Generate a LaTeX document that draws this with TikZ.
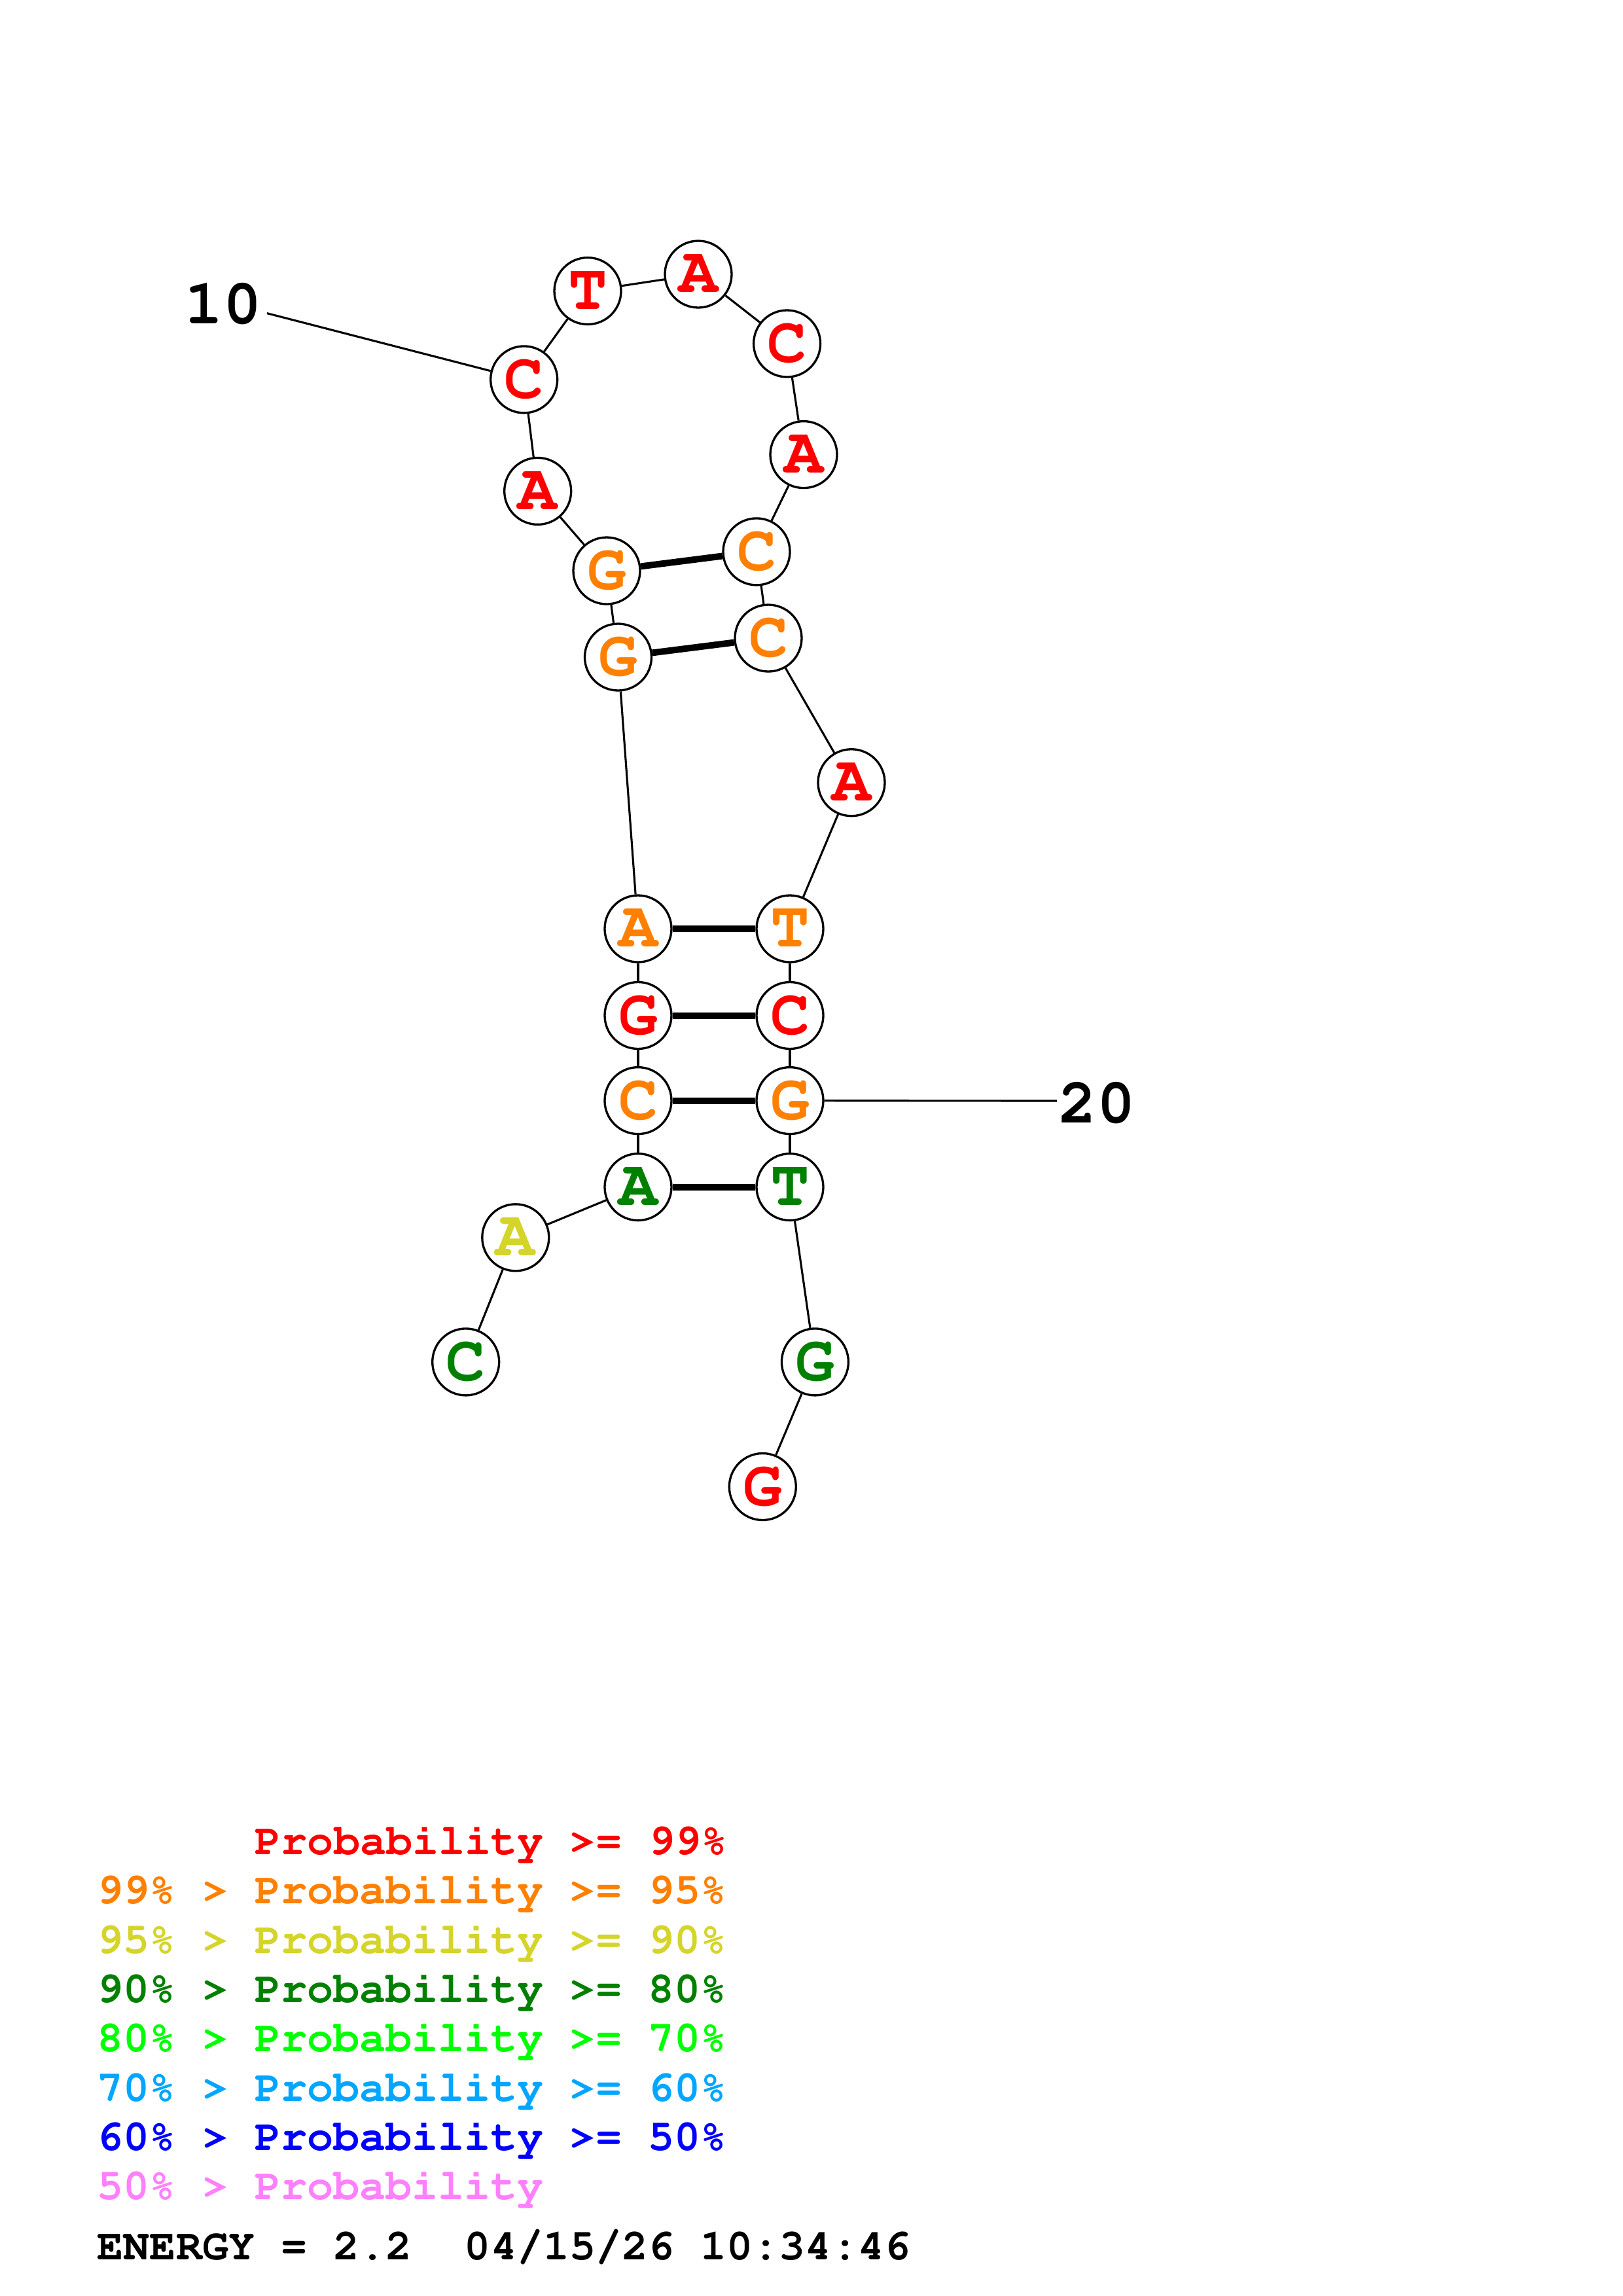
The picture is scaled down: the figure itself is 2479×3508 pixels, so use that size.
\documentclass[tikz,border=0pt]{standalone}
\usepackage[T1]{fontenc}
\newcommand\cfont{\fontencoding{T1}\fontfamily{pcr}\fontseries{b}\fontshape{n}\selectfont}
\definecolor{pred}{RGB}{255,0,0}
\definecolor{porange}{RGB}{255,128,0}
\definecolor{pyellow}{RGB}{212,212,42}
\definecolor{pgreen}{RGB}{0,128,0}
\definecolor{plime}{RGB}{0,255,0}
\definecolor{psky}{RGB}{0,166,255}
\definecolor{pblue}{RGB}{0,0,255}
\definecolor{ppink}{RGB}{255,128,255}
\begin{document}
\begin{tikzpicture}[x=0.084714mm,y=-0.084714mm,
  nt/.style={circle,draw,line width=0.8pt,fill=white,minimum size=8.64mm,inner sep=0pt,
    font=\cfont\fontsize{24}{24}\selectfont},
  bb/.style={line width=0.75pt},
  bp/.style={line width=2.4pt},
  numlab/.style={font=\cfont\fontsize{23.5}{24}\selectfont,inner sep=0pt},
  leg/.style={anchor=base west,inner sep=0pt,font=\cfont\fontsize{16.1}{16}\selectfont}]
\useasboundingbox (0,0) rectangle (2479,3508);
\fill[white] (0,0) rectangle (2479,3508);
% nucleotides
\node[nt,text=pgreen]  (n1)  at (711.7,2080.9) {C};
\node[nt,text=pyellow] (n2)  at (787.8,1890.8) {A};
\node[nt,text=pgreen]  (n3)  at (975,1813.6) {A};
\node[nt,text=porange] (n4)  at (975,1681.6) {C};
\node[nt,text=pred]    (n5)  at (975,1551.5) {G};
\node[nt,text=porange] (n6)  at (975,1419) {A};
\node[nt,text=porange] (n7)  at (944.5,1004) {G};
\node[nt,text=porange] (n8)  at (927,872) {G};
\node[nt,text=pred]    (n9)  at (821.7,750.4) {A};
\node[nt,text=pred]    (n10) at (800.7,579.9) {C};
\node[nt,text=pred]    (n11) at (898,444.6) {T};
\node[nt,text=pred]    (n12) at (1067,419) {A};
\node[nt,text=pred]    (n13) at (1202.6,525) {C};
\node[nt,text=pred]    (n14) at (1228,694.6) {A};
\node[nt,text=porange] (n15) at (1156,842.9) {C};
\node[nt,text=porange] (n16) at (1174,975) {C};
\node[nt,text=pred]    (n17) at (1301,1195.7) {A};
\node[nt,text=porange] (n18) at (1207,1419) {T};
\node[nt,text=pred]    (n19) at (1207,1551.5) {C};
\node[nt,text=porange] (n20) at (1207,1681.6) {G};
\node[nt,text=pgreen]  (n21) at (1207,1813.6) {T};
\node[nt,text=pgreen]  (n22) at (1245.4,2080.9) {G};
\node[nt,text=pred]    (n23) at (1165.3,2271.5) {G};
% backbone
\foreach \a/\b in {1/2,2/3,3/4,4/5,5/6,6/7,7/8,8/9,9/10,10/11,11/12,12/13,13/14,14/15,15/16,16/17,17/18,18/19,19/20,20/21,21/22,22/23}
  \draw[bb] (n\a) -- (n\b);
% base pairs
\foreach \a/\b in {8/15,7/16,6/18,5/19,4/20,3/21}
  \draw[bp] (n\a) -- (n\b);
% number labels
\node[numlab] (l10) at (341,465) {10};
\coordinate (l10e) at (408,478.6);
\draw[bb] (l10e) -- (n10);
\node[numlab] (l20) at (1676,1686) {20};
\coordinate (l20e) at (1615,1682);
\draw[bb] (n20) -- (l20e);
% legend
\node[leg,text=pred]    (g1) at (389,2833)  {Probability >= 99\%};
\node[leg,text=porange] (g2) at (148,2908.5) {99\% > Probability >= 95\%};
\node[leg,text=pyellow] (g3) at (148,2984)  {95\% > Probability >= 90\%};
\node[leg,text=pgreen]  (g4) at (148,3059)  {90\% > Probability >= 80\%};
\node[leg,text=plime]   (g5) at (148,3134.5) {80\% > Probability >= 70\%};
\node[leg,text=psky]    (g6) at (148,3210)  {70\% > Probability >= 60\%};
\node[leg,text=pblue]   (g7) at (148,3285)  {60\% > Probability >= 50\%};
\node[leg,text=ppink]   (g8) at (148,3360)  {50\% > Probability};
\node[leg,text=black]   (en) at (148,3452)  {ENERGY = 2.2\ \ 04/15/26 10:34:46};
\end{tikzpicture}
\end{document}
